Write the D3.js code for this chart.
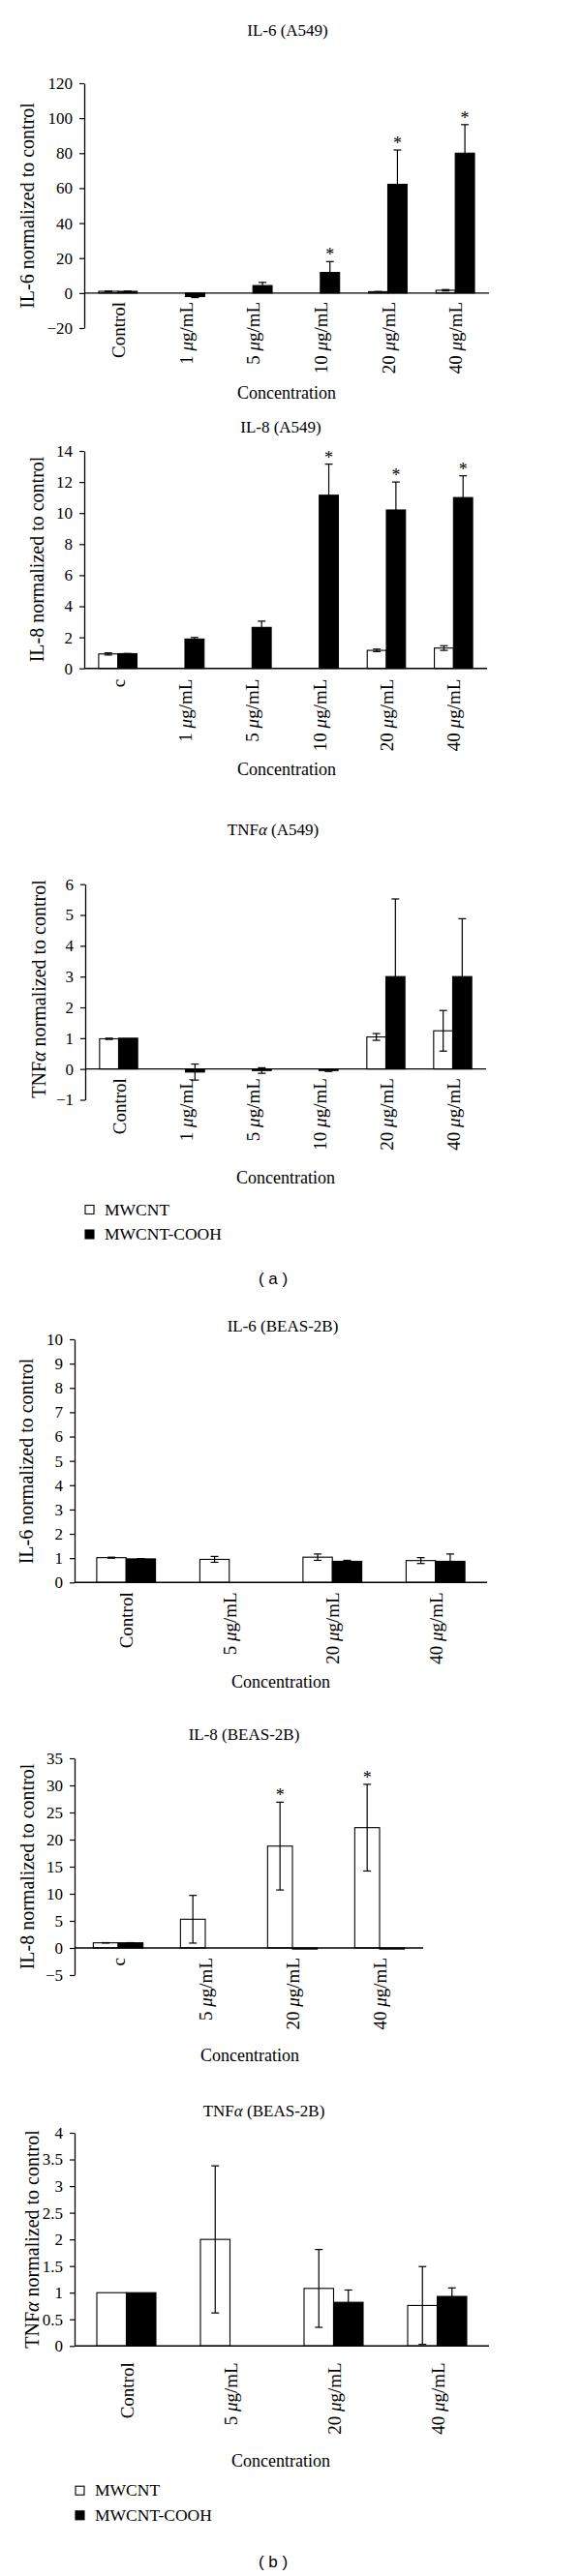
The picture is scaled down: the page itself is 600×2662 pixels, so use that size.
<!DOCTYPE html>
<html><head><meta charset="utf-8">
<script src="https://cdn.jsdelivr.net/npm/d3@7"></script>
<style>
body{margin:0;background:#fff}
svg{display:block}
text{font-family:"Liberation Serif","Times New Roman",serif;fill:#000}
</style>
</head><body>
<svg id="chart" width="600" height="2662"></svg>
<script>
// ---------- DATA ----------
const seriesNames = ["MWCNT", "MWCNT-COOH"];
const catsA549   = ["Control", "1 μg/mL", "5 μg/mL", "10 μg/mL", "20 μg/mL", "40 μg/mL"];
const catsA549c  = ["c", "1 μg/mL", "5 μg/mL", "10 μg/mL", "20 μg/mL", "40 μg/mL"];
const catsBEAS   = ["Control", "5 μg/mL", "20 μg/mL", "40 μg/mL"];
const catsBEASc  = ["c", "5 μg/mL", "20 μg/mL", "40 μg/mL"];

// IL-6 (A549)
const il6A549_mw      = [1.0, null, null, null, 0.8, 1.6];
const il6A549_mwErr   = [0.03, null, null, null, 0.1, 0.4];
const il6A549_cooh    = [1.0, -2.0, 4.3, 11.8, 62.2, 80.0];
const il6A549_coohErr = [0.03, 0.6, 1.8, 6.2, 19.6, 16.3];
const il6A549_coohSig = [0, 0, 0, 1, 1, 1];
const il6A549_ticks   = [-20, 0, 20, 40, 60, 80, 100, 120];

// IL-8 (A549)
const il8A549_mw      = [0.93, null, null, null, 1.16, 1.31];
const il8A549_mwErr   = [0.07, null, null, null, 0.08, 0.15];
const il8A549_cooh    = [0.95, 1.89, 2.64, 11.15, 10.2, 11.0];
const il8A549_coohErr = [0.01, 0.1, 0.4, 2.0, 1.8, 1.4];
const il8A549_coohSig = [0, 0, 0, 1, 1, 1];
const il8A549_ticks   = [0, 2, 4, 6, 8, 10, 12, 14];

// TNFα (A549)
const tnfA549_mw      = [0.98, null, null, null, 1.04, 1.24];
const tnfA549_mwErr   = [0.02, null, null, null, 0.11, 0.66];
const tnfA549_cooh    = [1.0, -0.1, -0.05, -0.05, 3.0, 3.0];
const tnfA549_coohErr = [0, 0.26, 0.09, 0.03, 2.52, 1.88];
const tnfA549_ticks   = [-1, 0, 1, 2, 3, 4, 5, 6];

// IL-6 (BEAS-2B)
const il6BEAS_mw      = [1.02, 0.95, 1.04, 0.9];
const il6BEAS_mwErr   = [0.02, 0.12, 0.13, 0.12];
const il6BEAS_cooh    = [0.97, null, 0.87, 0.87];
const il6BEAS_coohErr = [0.01, null, 0.04, 0.3];
const il6BEAS_ticks   = [0, 1, 2, 3, 4, 5, 6, 7, 8, 9, 10];

// IL-8 (BEAS-2B)
const il8BEAS_mw      = [0.95, 5.3, 18.8, 22.2];
const il8BEAS_mwErr   = [0.03, 4.4, 8.1, 8.0];
const il8BEAS_mwSig   = [0, 0, 1, 1];
const il8BEAS_cooh    = [0.95, null, -0.2, -0.2];
const il8BEAS_coohErr = [0.03, null, 0, 0];
const il8BEAS_ticks   = [-5, 0, 5, 10, 15, 20, 25, 30, 35];

// TNFα (BEAS-2B)
const tnfBEAS_mw      = [1.0, 2.0, 1.08, 0.76];
const tnfBEAS_mwErr   = [0, 1.38, 0.73, 0.73];
const tnfBEAS_cooh    = [1.0, null, 0.82, 0.93];
const tnfBEAS_coohErr = [0, null, 0.23, 0.16];
const tnfBEAS_ticks   = [0, 0.5, 1, 1.5, 2, 2.5, 3, 3.5, 4];

// ---------- LAYOUT ----------
const panels = [
  {title:"IL-6 (A549)", ylab:"IL-6 normalized to control", cats:catsA549,
   s1:il6A549_mw, e1:il6A549_mwErr, s2:il6A549_cooh, e2:il6A549_coohErr, sig2:il6A549_coohSig,
   ticks:il6A549_ticks, x0:87, x1:505, yTop:86, yBot:339,
   tx:297, ty:37, cx:296, cy:412, ylx:27.5, yly:212.5, labOff:9},
  {title:"IL-8 (A549)", ylab:"IL-8 normalized to control", cats:catsA549c,
   s1:il8A549_mw, e1:il8A549_mwErr, s2:il8A549_cooh, e2:il8A549_coohErr, sig2:il8A549_coohSig,
   ticks:il8A549_ticks, x0:87, x1:503, yTop:466, yBot:690.7,
   tx:290, ty:447, cx:296, cy:801, ylx:38, yly:578, labOff:11},
  {title:"TNFα (A549)", ylab:"TNFα normalized to control", cats:catsA549,
   s1:tnfA549_mw, e1:tnfA549_mwErr, s2:tnfA549_cooh, e2:tnfA549_coohErr,
   ticks:tnfA549_ticks, x0:88, x1:502, yTop:913.7, yBot:1136.5,
   tx:282, ty:863, cx:295, cy:1223, ylx:39.5, yly:1022, labOff:9.5,
   legend:{x:88, y1:1250, y2:1275.5, tx:108}, tag:{text:"( a )", x:282, y:1327}},
  {title:"IL-6 (BEAS-2B)", ylab:"IL-6 normalized to control", cats:catsBEAS,
   s1:il6BEAS_mw, e1:il6BEAS_mwErr, s2:il6BEAS_cooh, e2:il6BEAS_coohErr,
   ticks:il6BEAS_ticks, x0:77, x1:503, yTop:1384, yBot:1635.3,
   tx:292, ty:1375.5, cx:290, cy:1744, ylx:27, yly:1510, labOff:10},
  {title:"IL-8 (BEAS-2B)", ylab:"IL-8 normalized to control", cats:catsBEASc,
   s1:il8BEAS_mw, e1:il8BEAS_mwErr, sig1:il8BEAS_mwSig, s2:il8BEAS_cooh, e2:il8BEAS_coohErr,
   ticks:il8BEAS_ticks, x0:77, x1:437, yTop:1817, yBot:2041,
   tx:252, ty:1798, cx:258, cy:2130, ylx:27.5, yly:1929, labOff:10},
  {title:"TNFα (BEAS-2B)", ylab:"TNFα normalized to control", cats:catsBEAS,
   s1:tnfBEAS_mw, e1:tnfBEAS_mwErr, s2:tnfBEAS_cooh, e2:tnfBEAS_coohErr,
   ticks:tnfBEAS_ticks, x0:77, x1:505, yTop:2204, yBot:2424.3,
   tx:272.5, ty:2186.5, cx:290, cy:2549, ylx:33, yly:2314, labOff:17,
   legend:{x:78, y1:2573.7, y2:2599.3, tx:98}, tag:{text:"( b )", x:282, y:2653}}
];

const svg = d3.select("#chart");

// write text, putting Greek letters in italics
function richText(sel, str) {
  const parts = str.split(/([μα])/);
  parts.forEach(pt => {
    if (!pt) return;
    const t = sel.append("tspan").text(pt);
    if (pt === "μ" || pt === "α") t.style("font-style", "italic");
  });
  return sel;
}

function drawPanel(p) {
  const g = svg.append("g");
  const x = d3.scaleBand().domain(p.cats).range([p.x0, p.x1]);
  const bw = x.bandwidth();
  const xs = d3.scaleBand().domain(seriesNames).range([bw * 0.215, bw * 0.785]);
  const y = d3.scaleLinear().domain([p.ticks[0], p.ticks[p.ticks.length - 1]]).range([p.yBot, p.yTop]);

  const series = [
    {name:seriesNames[0], vals:p.s1, errs:p.e1, sig:p.sig1, fill:"#fff"},
    {name:seriesNames[1], vals:p.s2, errs:p.e2, sig:p.sig2, fill:"#000"}
  ];
  const recs = [];
  series.forEach(s => p.cats.forEach((c, i) => {
    if (s.vals[i] == null) return;
    recs.push({cat:c, name:s.name, v:s.vals[i], e:s.errs[i] || 0, sig:s.sig ? s.sig[i] : 0, fill:s.fill});
  }));

  // title
  richText(g.append("text").attr("x", p.tx).attr("y", p.ty).attr("text-anchor", "middle")
    .style("font-size", "17px"), p.title);

  // bars
  g.selectAll("rect.bar").data(recs).join("rect").attr("class", "bar")
    .attr("x", d => x(d.cat) + xs(d.name))
    .attr("width", xs.bandwidth())
    .attr("y", d => Math.min(y(0), y(d.v)))
    .attr("height", d => Math.max(0.8, Math.abs(y(0) - y(d.v))))
    .attr("fill", d => d.fill)
    .attr("stroke", "#000").attr("stroke-width", 1.1);

  // error bars
  const cap = 4;
  const eb = g.selectAll("g.err").data(recs.filter(d => d.e > 0)).join("g").attr("class", "err")
    .attr("stroke", "#000").attr("stroke-width", 1.2);
  eb.append("line")
    .attr("x1", d => x(d.cat) + xs(d.name) + xs.bandwidth() / 2)
    .attr("x2", d => x(d.cat) + xs(d.name) + xs.bandwidth() / 2)
    .attr("y1", d => y(d.v - d.e)).attr("y2", d => y(d.v + d.e));
  [1, -1].forEach(sgn => {
    eb.append("line")
      .attr("x1", d => x(d.cat) + xs(d.name) + xs.bandwidth() / 2 - cap)
      .attr("x2", d => x(d.cat) + xs(d.name) + xs.bandwidth() / 2 + cap)
      .attr("y1", d => y(d.v + sgn * d.e)).attr("y2", d => y(d.v + sgn * d.e));
  });

  // significance stars
  g.selectAll("text.sig").data(recs.filter(d => d.sig)).join("text").attr("class", "sig")
    .attr("x", d => x(d.cat) + xs(d.name) + xs.bandwidth() / 2)
    .attr("y", d => y(d.v + d.e) - 1)
    .attr("text-anchor", "middle").style("font-size", "18px").text("*");

  // y axis
  const ax = g.append("g").attr("transform", `translate(${p.x0},0)`)
    .call(d3.axisLeft(y).tickValues(p.ticks).tickSize(5).tickSizeOuter(0).tickPadding(7)
      .tickFormat(d => String(d).replace("-", "\u2212")));
  ax.attr("font-family", null).attr("font-size", null);
  ax.select(".domain").attr("stroke", "#000").attr("stroke-width", 1.3);
  ax.selectAll(".tick line").attr("stroke", "#000").attr("stroke-width", 1.2);
  ax.selectAll(".tick text").style("font-size", "17px").attr("fill", "#000");

  // x axis line at zero
  g.append("line").attr("x1", p.x0).attr("x2", p.x1).attr("y1", y(0)).attr("y2", y(0))
    .attr("stroke", "#000").attr("stroke-width", 1.4);

  // category labels
  p.cats.forEach(c => {
    const t = g.append("text")
      .attr("transform", `translate(${x(c) + bw / 2},${y(0) + p.labOff}) rotate(-90)`)
      .attr("text-anchor", "end").attr("dominant-baseline", "central")
      .style("font-size", "19px");
    richText(t, c);
  });

  // axis titles
  g.append("text").attr("x", p.cx).attr("y", p.cy).attr("text-anchor", "middle")
    .style("font-size", "18px").text("Concentration");
  richText(g.append("text").attr("transform", `translate(${p.ylx},${p.yly}) rotate(-90)`)
    .attr("text-anchor", "middle").attr("dominant-baseline", "central")
    .style("font-size", "20px"), p.ylab);

  // legend
  if (p.legend) {
    const L = p.legend, sz = 9;
    [[L.y1, "#fff", seriesNames[0]], [L.y2, "#000", seriesNames[1]]].forEach(([cy, f, nm]) => {
      g.append("rect").attr("x", L.x).attr("y", cy - sz / 2).attr("width", sz).attr("height", sz)
        .attr("fill", f).attr("stroke", "#000").attr("stroke-width", 1.1);
      g.append("text").attr("x", L.tx).attr("y", cy + 5.5).style("font-size", "17.5px").text(nm);
    });
  }
  if (p.tag) {
    g.append("text").attr("x", p.tag.x).attr("y", p.tag.y).attr("text-anchor", "middle")
      .style("font-family", "'Liberation Sans', Arial, sans-serif").style("font-size", "17px")
      .attr("xml:space", "preserve").style("white-space", "pre").text(p.tag.text);
  }
}

panels.forEach(drawPanel);
</script>
</body></html>
